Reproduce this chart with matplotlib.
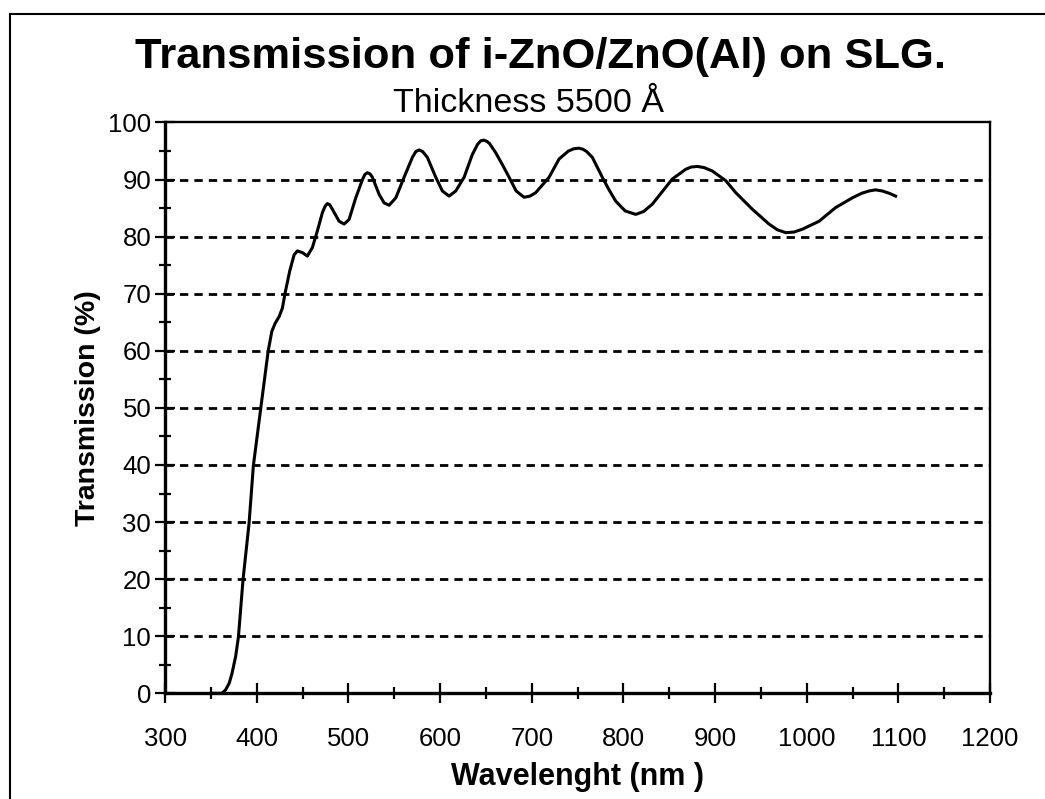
import matplotlib
matplotlib.use("Agg")
import matplotlib.pyplot as plt
from matplotlib.lines import Line2D
from matplotlib.ticker import MultipleLocator

plt.rcParams["font.family"] = ["Liberation Sans", "DejaVu Sans"]

# transmission spectrum read point by point
wavelength = [
    350, 362, 366, 370, 373, 377, 380, 385, 391.6, 396.3, 404.4, 412.4, 416.4,
    420, 424.4, 428, 431, 436, 440.7, 444.3, 449.8, 455.2, 460.7, 466.1,
    471.6, 474.5, 477, 479.5, 482.5, 489.8, 495.3, 500.7, 508, 515.3, 518,
    520.7, 523.5, 526.2, 533.5, 539, 544.4, 551.7, 560.7, 569.8, 573.5,
    577.1, 581, 586.1, 595.3, 602.5, 609.8, 617.1, 626.2, 635.2, 641, 644.5,
    648, 651, 654, 660.7, 668, 675.3, 683, 691.6, 698, 704.3, 718.9, 729.8,
    740, 746, 751.6, 756, 760, 766.1, 777, 784, 791.7, 802, 813.5, 822,
    831.6, 842, 853.4, 868, 874, 880.7, 888, 897, 911.7, 922.6, 940.7,
    958.9, 968, 977.1, 986, 995.2, 1013.5, 1031.6, 1049.8, 1060, 1068,
    1075, 1082.5, 1090, 1097,
]
transmission = [
    0, 0, 0.6, 1.8, 3.5, 6.5, 9.9, 19.9, 29.8, 39.9, 50, 59.9, 63.4,
    64.8, 66, 67.5, 70.2, 74, 76.8, 77.5, 77.2, 76.6, 78.1, 81,
    84.2, 85.3, 85.8, 85.6, 84.8, 82.7, 82.2, 83, 86.8, 90, 90.9,
    91.2, 91.0, 90.4, 87.4, 85.9, 85.5, 86.8, 90.4, 93.9, 94.9,
    95.2, 94.9, 93.9, 90.4, 88, 87.1, 88, 90.4, 94.4, 96.2, 96.8,
    96.9, 96.7, 96.3, 94.7, 92.6, 90.4, 88, 86.9, 87.1, 87.7, 90.4, 93.6,
    95, 95.4, 95.5, 95.3, 94.9, 93.9, 90.4, 88.3, 86.2, 84.5, 83.9, 84.4,
    85.7, 87.8, 90.1, 91.8, 92.2, 92.3, 92.1, 91.5, 89.8, 87.7, 84.8,
    82.2, 81.2, 80.7, 80.8, 81.3, 82.7, 85.1, 86.8, 87.6, 88,
    88.2, 88, 87.6, 87.1,
]
grid_levels = [10, 20, 30, 40, 50, 60, 70, 80, 90]

fig = plt.figure(figsize=(10.45, 7.99), dpi=100)
ax = fig.add_axes([0.158, 0.1323, 0.7894, 0.7144])

# page frame
fig.add_artist(Line2D([0.0096, 1.0], [0.9825, 0.9825], color="black", lw=1.5,
                      transform=fig.transFigure))
fig.add_artist(Line2D([0.0096, 0.0096], [0.0, 0.9825], color="black", lw=1.5,
                      transform=fig.transFigure))

for lvl in grid_levels:
    ax.axhline(lvl, color="black", lw=2.0, ls=(0, (3.0, 2.2)), zorder=1)

ax.plot(wavelength, transmission, color="black", lw=2.2, zorder=3,
        solid_joinstyle="round")

ax.set_xlim(300, 1200)
ax.set_ylim(0, 100)
ax.xaxis.set_major_locator(MultipleLocator(100))
ax.xaxis.set_minor_locator(MultipleLocator(50))
ax.yaxis.set_major_locator(MultipleLocator(10))
ax.yaxis.set_minor_locator(MultipleLocator(5))
ax.tick_params(which="major", direction="inout", length=14, width=1.6,
               labelsize=18.5)
ax.tick_params(which="minor", direction="inout", length=9, width=1.6)
ax.tick_params(axis="x", which="major", pad=17)
ax.tick_params(axis="y", which="major", pad=3)

ax.spines["left"].set_linewidth(2.4)
ax.spines["bottom"].set_linewidth(2.4)
ax.spines["top"].set_linewidth(1.7)
ax.spines["right"].set_linewidth(1.7)

ax.set_xlabel("Wavelenght (nm )", fontsize=22, fontweight="bold", labelpad=8)
ax.set_ylabel("Transmission (%)", fontsize=20.5, fontweight="bold",
              labelpad=5)

fig.text(0.517, 0.915, "Transmission of i-ZnO/ZnO(Al) on SLG.", fontsize=31.3,
         fontweight="bold", ha="center", va="baseline")
fig.text(0.506, 0.86, "Thickness 5500 Å", fontsize=24.5, ha="center",
         va="baseline")

fig.savefig("out.png", dpi=100)
